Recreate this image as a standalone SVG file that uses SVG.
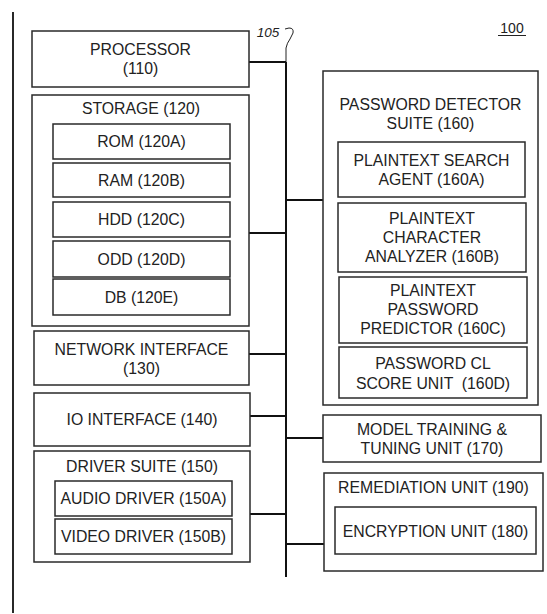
<svg xmlns="http://www.w3.org/2000/svg" width="547" height="614" viewBox="0 0 547 614">
<style>
.b{fill:#fff;stroke:#2a2a2a;stroke-width:1.5}
.t{font-family:"Liberation Sans",Arial,sans-serif;font-size:15.8px;fill:#222;text-anchor:middle}
.c{stroke:#111;stroke-width:2;fill:none}
</style>
<rect width="547" height="614" fill="#fff"/>
<g id="frame"><line x1="13" y1="12" x2="13" y2="613" stroke="#111" stroke-width="1.8"/></g>
<g id="label100"><text x="512" y="33" font-family="Liberation Sans,Arial,sans-serif" font-size="14" fill="#222" text-anchor="middle">100</text><line x1="498" y1="35.5" x2="526" y2="35.5" stroke="#222" stroke-width="1"/></g>
<g id="label105"><text x="268" y="37" font-family="Liberation Sans,Arial,sans-serif" font-size="13.5" font-style="italic" fill="#222" text-anchor="middle">105</text><path d="M286,62 L286,48 Q287,43 290,39 L293,33 Q294,28 289,28 L285,29" fill="none" stroke="#222" stroke-width="1"/></g>
<g id="connectors">
<line class="c" x1="286" y1="62" x2="286" y2="577"/>
<line class="c" x1="249" y1="62" x2="286" y2="62"/>
<line class="c" x1="249" y1="233" x2="286" y2="233"/>
<line class="c" x1="249" y1="354" x2="286" y2="354"/>
<line class="c" x1="250" y1="416" x2="286" y2="416"/>
<line class="c" x1="250" y1="514" x2="286" y2="514"/>
<line class="c" x1="286" y1="200" x2="323" y2="200"/>
<line class="c" x1="286" y1="438" x2="323" y2="438"/>
<line class="c" x1="286" y1="544" x2="324" y2="544"/>
</g>
<g id="processor"><rect class="b" x="32" y="31" width="217" height="56"/><text class="t" x="140.5" y="55">PROCESSOR</text><text class="t" x="140.5" y="74">(110)</text></g>
<g id="storage"><rect class="b" x="32" y="95" width="217" height="231"/><text class="t" x="141" y="114">STORAGE (120)</text></g>
<g id="rom"><rect class="b" x="53" y="124" width="177" height="35"/><text class="t" x="141.5" y="147">ROM (120A)</text></g>
<g id="ram"><rect class="b" x="53" y="163" width="177" height="34"/><text class="t" x="141.5" y="186">RAM (120B)</text></g>
<g id="hdd"><rect class="b" x="53" y="202" width="177" height="35"/><text class="t" x="141.5" y="225">HDD (120C)</text></g>
<g id="odd"><rect class="b" x="53" y="241" width="177" height="36"/><text class="t" x="141.5" y="264.5">ODD (120D)</text></g>
<g id="db"><rect class="b" x="53" y="279" width="177" height="36"/><text class="t" x="141.5" y="302.5">DB (120E)</text></g>
<g id="network"><rect class="b" x="34" y="331" width="215" height="54"/><text class="t" x="141.5" y="355">NETWORK INTERFACE</text><text class="t" x="141.5" y="374">(130)</text></g>
<g id="io"><rect class="b" x="34" y="393" width="216" height="53"/><text class="t" x="142" y="425">IO INTERFACE (140)</text></g>
<g id="driver"><rect class="b" x="34" y="451" width="216" height="111"/><text class="t" x="142" y="472">DRIVER SUITE (150)</text></g>
<g id="audio"><rect class="b" x="55" y="481" width="177" height="35"/><text class="t" x="143.5" y="504">AUDIO DRIVER (150A)</text></g>
<g id="video"><rect class="b" x="55" y="519" width="177" height="35"/><text class="t" x="143.5" y="542">VIDEO DRIVER (150B)</text></g>
<g id="pds"><rect class="b" x="323" y="71" width="215" height="334"/><text class="t" x="430.5" y="110">PASSWORD DETECTOR</text><text class="t" x="430.5" y="129">SUITE (160)</text></g>
<g id="p160a"><rect class="b" x="338" y="142" width="187" height="55"/><text class="t" x="431.5" y="165.5">PLAINTEXT SEARCH</text><text class="t" x="431.5" y="185">AGENT (160A)</text></g>
<g id="p160b"><rect class="b" x="338" y="203" width="188" height="69"/><text class="t" x="432" y="224">PLAINTEXT</text><text class="t" x="432" y="243">CHARACTER</text><text class="t" x="432" y="262">ANALYZER (160B)</text></g>
<g id="p160c"><rect class="b" x="339" y="277" width="188" height="66"/><text class="t" x="433" y="296">PLAINTEXT</text><text class="t" x="433" y="315">PASSWORD</text><text class="t" x="433" y="334">PREDICTOR (160C)</text></g>
<g id="p160d"><rect class="b" x="339" y="347" width="188" height="51"/><text class="t" x="433" y="369">PASSWORD CL</text><text class="t" x="433" y="388.5" xml:space="preserve">SCORE UNIT  (160D)</text></g>
<g id="model"><rect class="b" x="323" y="415" width="218" height="47"/><text class="t" x="432" y="435">MODEL TRAINING &amp;</text><text class="t" x="432" y="454">TUNING UNIT (170)</text></g>
<g id="remediation"><rect class="b" x="324" y="473" width="219" height="98"/><text class="t" x="433.5" y="493">REMEDIATION UNIT (190)</text></g>
<g id="encryption"><rect class="b" x="335" y="507" width="201" height="47"/><text class="t" x="435.5" y="537">ENCRYPTION UNIT (180)</text></g>
</svg>
